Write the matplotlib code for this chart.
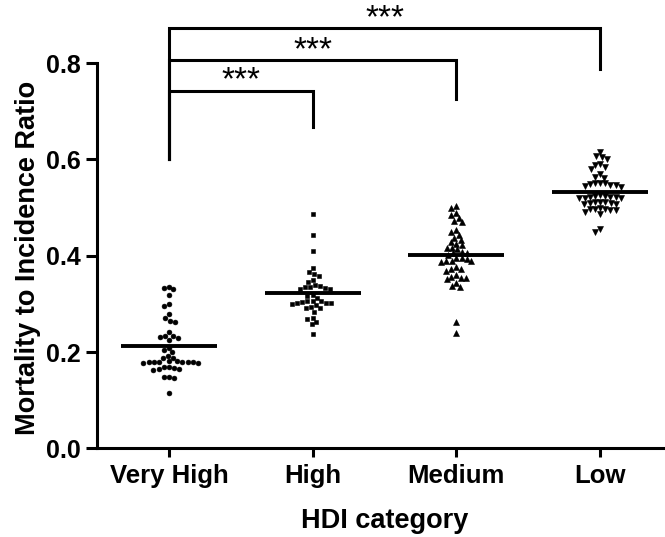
import numpy as np
import matplotlib
matplotlib.use("Agg")
import matplotlib.pyplot as plt

plt.rcParams['font.family'] = ['Liberation Sans', 'DejaVu Sans']

categories = ['Very High', 'High', 'Medium', 'Low']

very_high = [0.336, 0.332, 0.330, 0.318, 0.300, 0.296, 0.278, 0.270, 0.265, 0.263,
             0.241, 0.233, 0.233, 0.231, 0.230, 0.225, 0.208, 0.204, 0.199, 0.192,
             0.188, 0.187, 0.181, 0.180, 0.179, 0.180, 0.178, 0.179, 0.178, 0.179,
             0.180, 0.181, 0.168, 0.166, 0.164, 0.163, 0.165, 0.168, 0.149, 0.145,
             0.149, 0.114]
high = [0.486, 0.444, 0.410, 0.375, 0.367, 0.363, 0.358, 0.350, 0.346, 0.340,
        0.338, 0.336, 0.334, 0.332, 0.331, 0.331, 0.318, 0.316, 0.313, 0.306,
        0.305, 0.305, 0.304, 0.302, 0.302, 0.301, 0.300, 0.298, 0.294, 0.291,
        0.291, 0.284, 0.271, 0.269, 0.263, 0.258, 0.237]
medium = [0.504, 0.500, 0.488, 0.485, 0.478, 0.473, 0.469, 0.453, 0.449, 0.443,
          0.437, 0.433, 0.428, 0.424, 0.422, 0.417, 0.415, 0.413, 0.408, 0.406,
          0.406, 0.402, 0.395, 0.395, 0.394, 0.390, 0.388, 0.388, 0.386, 0.376,
          0.372, 0.372, 0.369, 0.360, 0.356, 0.354, 0.353, 0.352, 0.344, 0.338,
          0.336, 0.263, 0.240]
low = [0.615, 0.607, 0.604, 0.601, 0.590, 0.588, 0.585, 0.581, 0.569, 0.564,
       0.561, 0.552, 0.550, 0.550, 0.548, 0.547, 0.546, 0.545, 0.543, 0.526,
       0.525, 0.524, 0.522, 0.521, 0.520, 0.520, 0.520, 0.521, 0.512, 0.511,
       0.509, 0.508, 0.508, 0.509, 0.511, 0.500, 0.498, 0.498, 0.496, 0.495,
       0.491, 0.487, 0.495, 0.455, 0.450]
means = [0.212, 0.323, 0.402, 0.532]

groups = [very_high, high, medium, low]
markers = ['o', 's', '^', 'v']
msizes = [3.5, 3.3, 4.8, 4.8]

# significance brackets: (left, right, bar height, right end bottom)
comparisons = [(0, 1, 0.743, 0.668), (0, 2, 0.806, 0.726), (0, 3, 0.873, 0.787)]
left_bottom = 0.60
stars = '***'

W, H = 665, 537
fig = plt.figure(figsize=(W / 100, H / 100), dpi=100)
ax_left, ax_bottom, ax_right = 97, 448.3, 665
ax = fig.add_axes([ax_left / W, (H - ax_bottom) / H, (ax_right - ax_left) / W, ax_bottom / H])

px_per_cat = 143.7
px_per_unit = 481.5
ax.set_xlim((ax_left - 169) / px_per_cat, (ax_right - 169) / px_per_cat)
ax.set_ylim(0, ax_bottom / px_per_unit)


def swarm(vals, d):
    # simple beeswarm in pixel space, returns x offsets in pixels
    ys = np.asarray(vals) * px_per_unit
    offs = np.zeros(len(ys))
    placed = []
    for i in np.argsort(-ys):
        y = ys[i]
        cands = [0.0]
        for (px, py) in placed:
            dy = abs(y - py)
            if dy < d:
                dx = np.sqrt(d * d - dy * dy)
                cands += [px + dx, px - dx]
        cands.sort(key=lambda c: (abs(c), c))
        for c in cands:
            if all((c - px) ** 2 + (y - py) ** 2 >= d * d - 1e-6 for px, py in placed):
                offs[i] = c
                break
        placed.append((offs[i], y))
    return offs


for i, vals in enumerate(groups):
    offs = swarm(vals, 5.3) / px_per_cat
    ax.plot(i + offs, vals, linestyle='none', marker=markers[i], ms=msizes[i],
            color='black', mec='black', mew=0.4)
    ax.hlines(means[i], i - 0.334, i + 0.334, color='black', lw=2.8)

for a, b, bar, rb in comparisons:
    ax.plot([a, a, b, b], [left_bottom, bar, bar, rb], color='black', lw=2.2,
            clip_on=False, solid_joinstyle='miter')
    ax.text((a + b) / 2, bar + 0.002, stars, ha='center', va='baseline',
            fontsize=24, clip_on=False)

for s in ['top', 'right']:
    ax.spines[s].set_visible(False)
for s in ['left', 'bottom']:
    ax.spines[s].set_linewidth(2.2)
ax.spines['left'].set_bounds(0, 0.8)

ax.set_yticks([0.0, 0.2, 0.4, 0.6, 0.8])
ax.set_yticklabels(['0.0', '0.2', '0.4', '0.6', '0.8'])
ax.set_xticks(range(len(categories)))
ax.set_xticklabels(categories)
ax.tick_params(axis='y', length=8, width=2.2, pad=4, labelsize=18)
ax.tick_params(axis='x', length=6.5, width=2.2, pad=5, labelsize=18.5)
for lab in ax.get_xticklabels() + ax.get_yticklabels():
    lab.set_fontweight('bold')

ax.set_ylabel('Mortality to Incidence Ratio', fontsize=19.5, fontweight='bold')
ax.set_xlabel('HDI category', fontsize=19.5, fontweight='bold')
ax.yaxis.set_label_coords((28 - ax_left) / (ax_right - ax_left), (ax_bottom - 257.5) / ax_bottom)
ax.xaxis.set_label_coords((385 - ax_left) / (ax_right - ax_left), (ax_bottom - 521) / ax_bottom)
ax.yaxis.label.set_va('center')
ax.xaxis.label.set_va('center')

fig.savefig('out.png', dpi=100)
